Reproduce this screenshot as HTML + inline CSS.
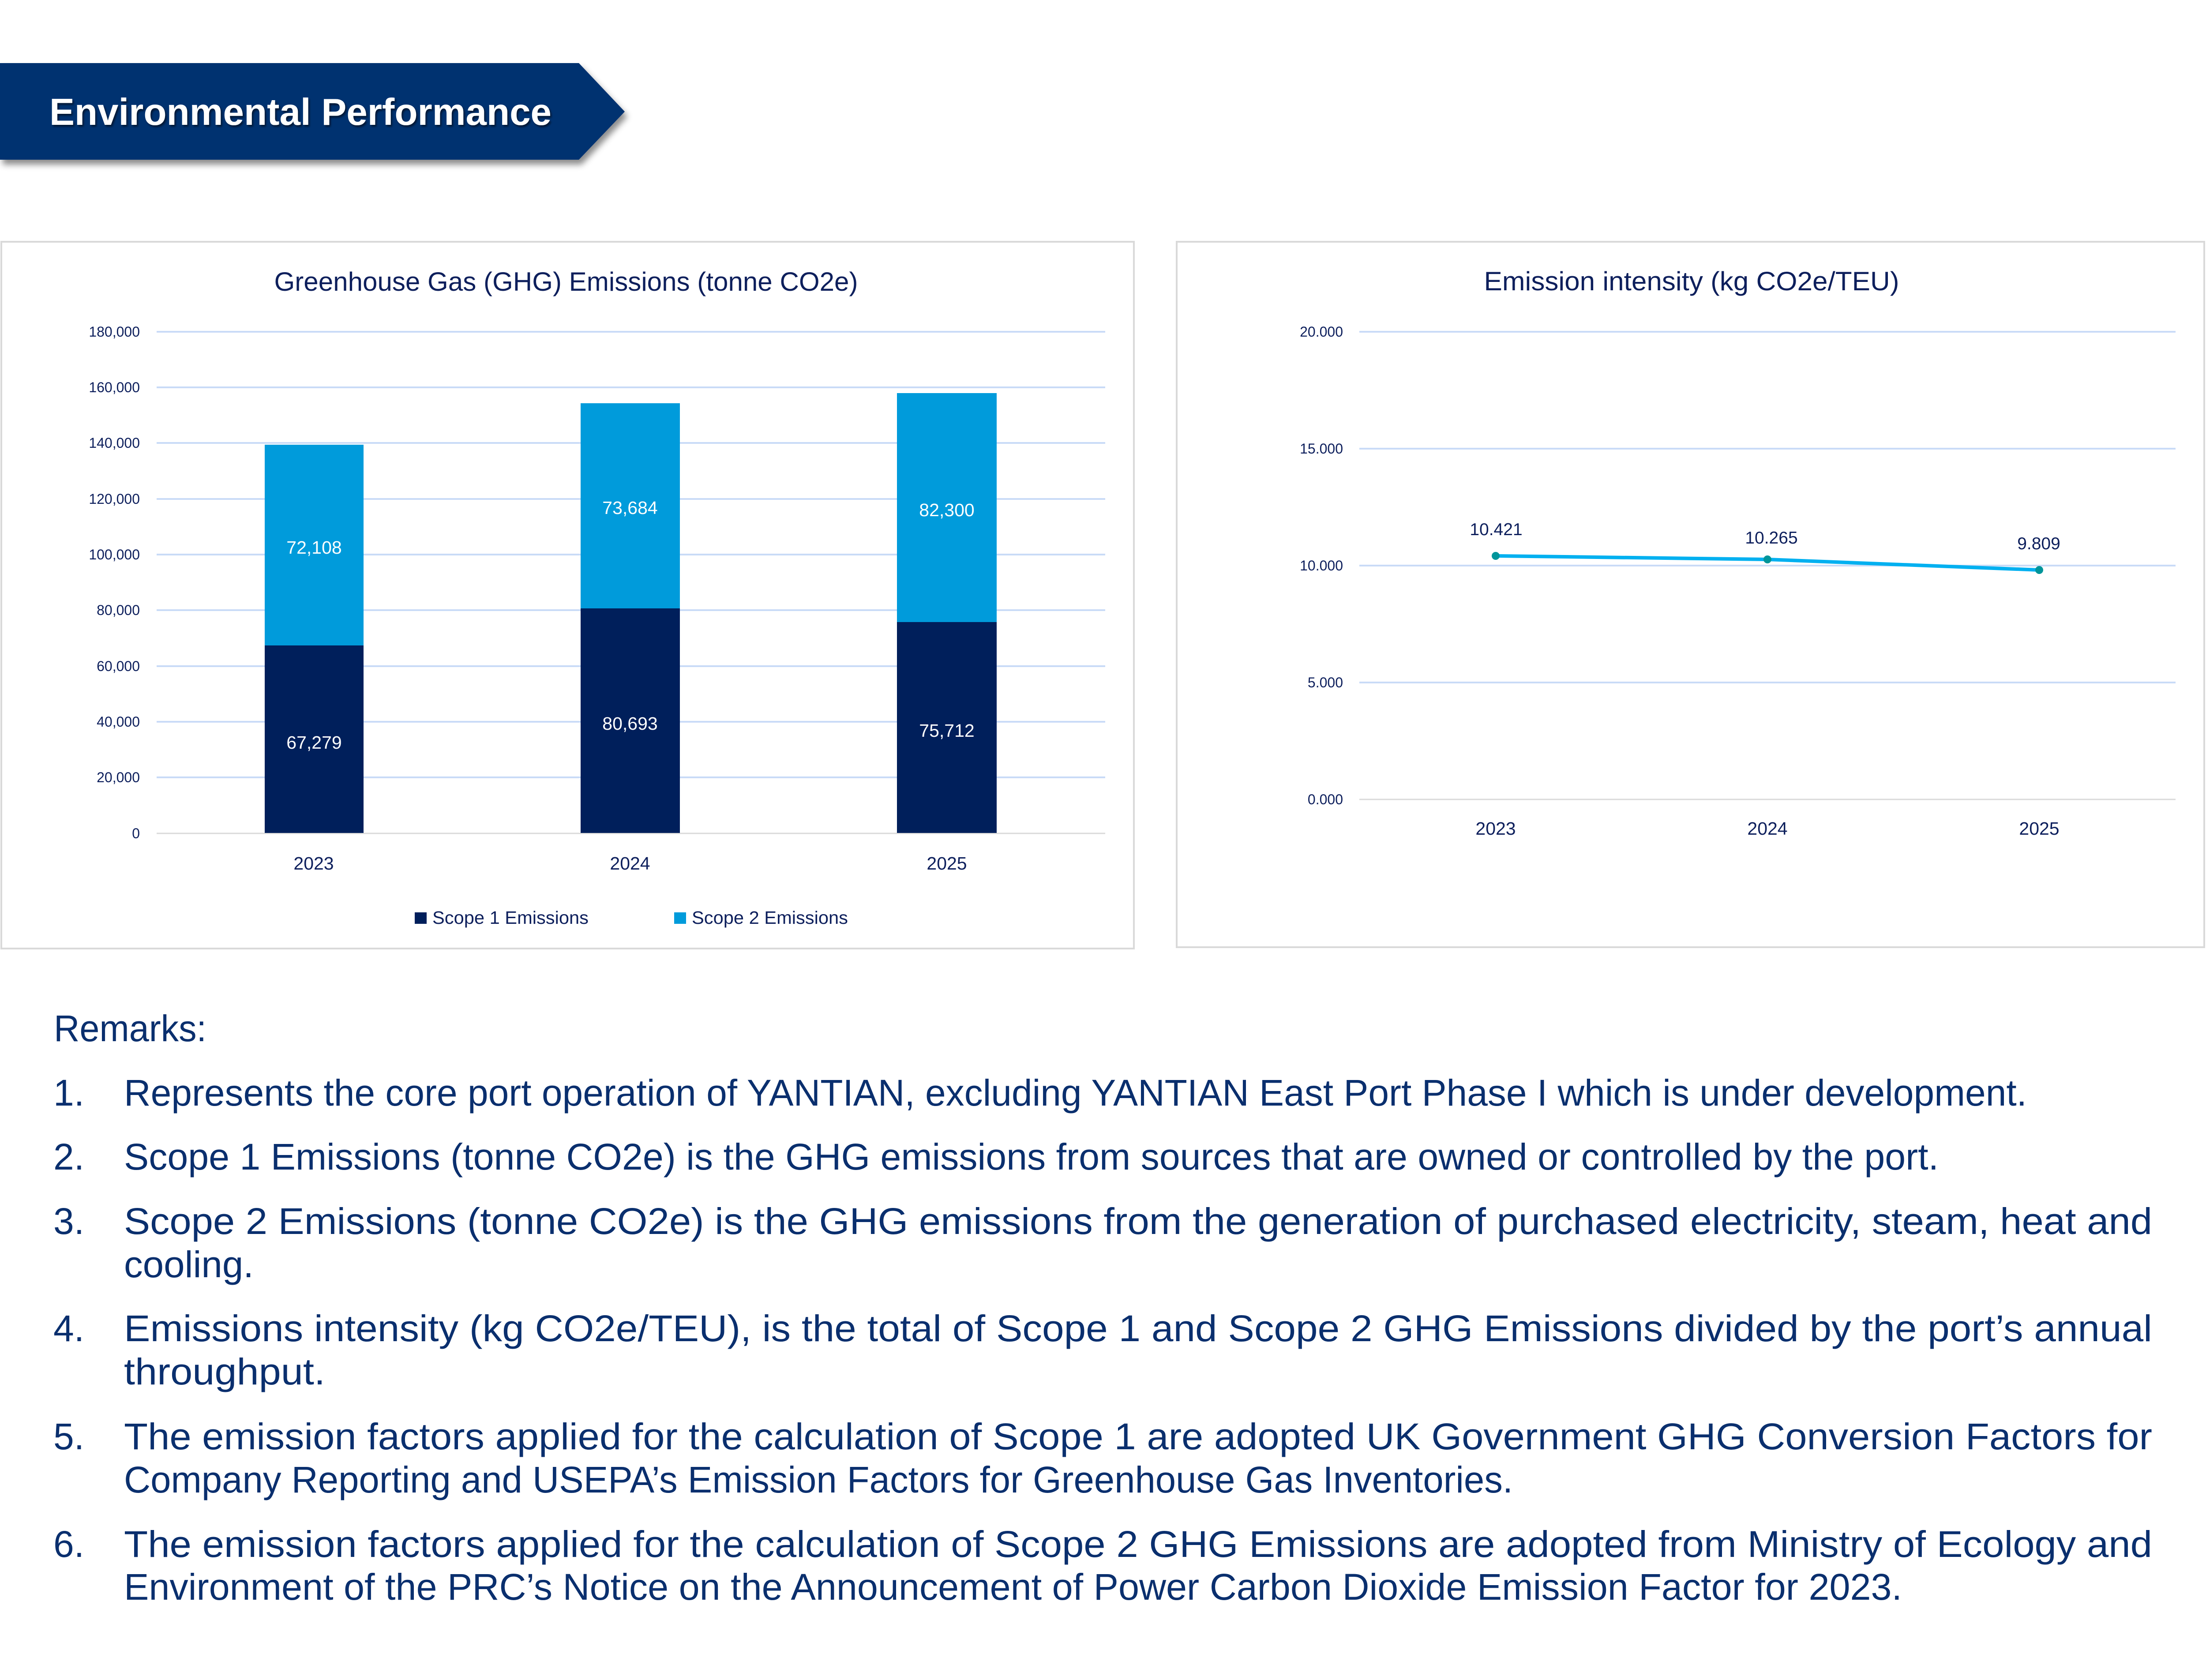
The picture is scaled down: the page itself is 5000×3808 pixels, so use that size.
<!DOCTYPE html>
<html>
<head>
<meta charset="utf-8">
<style>
  html, body { margin: 0; padding: 0; background: #ffffff; }
  body { width: 5000px; height: 3808px; overflow: hidden; }
  svg { display: block; }
  text { font-family: "Liberation Sans", "DejaVu Sans", sans-serif; }
</style>
</head>
<body>
<svg width="5000" height="3808" viewBox="0 0 5000 3808" xmlns="http://www.w3.org/2000/svg">
  <defs>
    <filter id="bshadow" x="-5%" y="-20%" width="115%" height="150%">
      <feDropShadow dx="6" dy="11" stdDeviation="7" flood-color="#000000" flood-opacity="0.45"/>
    </filter>
    <filter id="tshadow" x="-5%" y="-20%" width="110%" height="150%">
      <feDropShadow dx="3" dy="4" stdDeviation="2" flood-color="#000000" flood-opacity="0.55"/>
    </filter>
  </defs>

  <rect x="0" y="0" width="5000" height="3808" fill="#ffffff"/>

  <!-- Header banner -->
  <polygon points="0,143 1312,143 1416,253 1312,362 0,362" fill="#003070" filter="url(#bshadow)"/>
  <text x="112" y="283" font-size="85" font-weight="bold" fill="#ffffff" textLength="1138" lengthAdjust="spacingAndGlyphs" filter="url(#tshadow)">Environmental Performance</text>

  <!-- ============ Left chart ============ -->
  <rect x="3" y="548" width="2567" height="1602" fill="#ffffff" stroke="#D9D9D9" stroke-width="4"/>
  <text x="1283" y="659" font-size="60" fill="#0D1F5C" text-anchor="middle" textLength="1323" lengthAdjust="spacingAndGlyphs">Greenhouse Gas (GHG) Emissions (tonne CO2e)</text>

  <!-- gridlines -->
  <g stroke="#C9DBF7" stroke-width="4">
    <line x1="355" y1="1762" x2="2505" y2="1762"/>
    <line x1="355" y1="1636" x2="2505" y2="1636"/>
    <line x1="355" y1="1510" x2="2505" y2="1510"/>
    <line x1="355" y1="1383" x2="2505" y2="1383"/>
    <line x1="355" y1="1257" x2="2505" y2="1257"/>
    <line x1="355" y1="1131" x2="2505" y2="1131"/>
    <line x1="355" y1="1004" x2="2505" y2="1004"/>
    <line x1="355" y1="878" x2="2505" y2="878"/>
    <line x1="355" y1="752" x2="2505" y2="752"/>
  </g>
  <line x1="355" y1="1889" x2="2505" y2="1889" stroke="#D9D9D9" stroke-width="3"/>

  <!-- y labels -->
  <g font-size="32" fill="#0D1F5C" text-anchor="end">
    <text x="317" y="1900">0</text>
    <text x="317" y="1773">20,000</text>
    <text x="317" y="1647">40,000</text>
    <text x="317" y="1521">60,000</text>
    <text x="317" y="1394">80,000</text>
    <text x="317" y="1268">100,000</text>
    <text x="317" y="1142">120,000</text>
    <text x="317" y="1015">140,000</text>
    <text x="317" y="889">160,000</text>
    <text x="317" y="763">180,000</text>
  </g>

  <!-- bars -->
  <rect x="600" y="1463" width="224" height="425" fill="#001F5B"/>
  <rect x="600" y="1008" width="224" height="455" fill="#009BDB"/>
  <rect x="1316" y="1379" width="225" height="509" fill="#001F5B"/>
  <rect x="1316" y="914" width="225" height="465" fill="#009BDB"/>
  <rect x="2033" y="1410" width="226" height="478" fill="#001F5B"/>
  <rect x="2033" y="891" width="226" height="519" fill="#009BDB"/>

  <!-- bar labels -->
  <g font-size="41" fill="#ffffff" text-anchor="middle">
    <text x="712" y="1697">67,279</text>
    <text x="712" y="1255">72,108</text>
    <text x="1428" y="1654">80,693</text>
    <text x="1428" y="1165">73,684</text>
    <text x="2146" y="1670">75,712</text>
    <text x="2146" y="1170">82,300</text>
  </g>

  <!-- x labels -->
  <g font-size="41" fill="#0D1F5C" text-anchor="middle">
    <text x="711" y="1971">2023</text>
    <text x="1428" y="1971">2024</text>
    <text x="2146" y="1971">2025</text>
  </g>

  <!-- legend -->
  <rect x="940" y="2068" width="27" height="26" fill="#001F5B"/>
  <text x="980" y="2094" font-size="41" fill="#0D1F5C" textLength="354" lengthAdjust="spacingAndGlyphs">Scope 1 Emissions</text>
  <rect x="1528" y="2068" width="27" height="26" fill="#009BDB"/>
  <text x="1568" y="2094" font-size="41" fill="#0D1F5C" textLength="354" lengthAdjust="spacingAndGlyphs">Scope 2 Emissions</text>

  <!-- ============ Right chart ============ -->
  <rect x="2667" y="548" width="2329" height="1599" fill="#ffffff" stroke="#D9D9D9" stroke-width="4"/>
  <text x="3834" y="658" font-size="60" fill="#0D1F5C" text-anchor="middle" textLength="941" lengthAdjust="spacingAndGlyphs">Emission intensity (kg CO2e/TEU)</text>

  <g stroke="#C9DBF7" stroke-width="4">
    <line x1="3081" y1="1547" x2="4931" y2="1547"/>
    <line x1="3081" y1="1282" x2="4931" y2="1282"/>
    <line x1="3081" y1="1017" x2="4931" y2="1017"/>
    <line x1="3081" y1="752" x2="4931" y2="752"/>
  </g>
  <line x1="3081" y1="1812" x2="4931" y2="1812" stroke="#D9D9D9" stroke-width="3"/>

  <g font-size="32" fill="#0D1F5C" text-anchor="end">
    <text x="3044" y="1823">0.000</text>
    <text x="3044" y="1558">5.000</text>
    <text x="3044" y="1293">10.000</text>
    <text x="3044" y="1028">15.000</text>
    <text x="3044" y="763">20.000</text>
  </g>

  <polyline points="3390,1260 4006,1268 4622,1292" fill="none" stroke="#00B0F0" stroke-width="8" stroke-linejoin="round" stroke-linecap="round"/>
  <g fill="#00959A">
    <circle cx="3390" cy="1260" r="9"/>
    <circle cx="4006" cy="1268" r="9"/>
    <circle cx="4622" cy="1292" r="9"/>
  </g>

  <g font-size="39" fill="#0D1F5C" text-anchor="middle">
    <text x="3391" y="1213">10.421</text>
    <text x="4015" y="1232">10.265</text>
    <text x="4621" y="1245">9.809</text>
  </g>

  <g font-size="41" fill="#0D1F5C" text-anchor="middle">
    <text x="3390" y="1892">2023</text>
    <text x="4006" y="1892">2024</text>
    <text x="4622" y="1892">2025</text>
  </g>

  <!-- ============ Remarks ============ -->
  <g font-size="84" fill="#0A2F6E">
    <text x="122" y="2360" textLength="346" lengthAdjust="spacingAndGlyphs">Remarks:</text>

    <text x="121" y="2506">1.</text>
    <text x="281" y="2506" textLength="4313" lengthAdjust="spacingAndGlyphs">Represents the core port operation of YANTIAN, excluding YANTIAN East Port Phase I which is under development.</text>

    <text x="121" y="2651">2.</text>
    <text x="281" y="2651" textLength="4113" lengthAdjust="spacingAndGlyphs">Scope 1 Emissions (tonne CO2e) is the GHG emissions from sources that are owned or controlled by the port.</text>

    <text x="121" y="2797">3.</text>
    <text x="281" y="2797" textLength="4597" lengthAdjust="spacingAndGlyphs">Scope 2 Emissions (tonne CO2e) is the GHG emissions from the generation of purchased electricity, steam, heat and</text>
    <text x="281" y="2895" textLength="294" lengthAdjust="spacingAndGlyphs">cooling.</text>

    <text x="121" y="3040">4.</text>
    <text x="281" y="3040" textLength="4597" lengthAdjust="spacingAndGlyphs">Emissions intensity (kg CO2e/TEU), is the total of Scope 1 and Scope 2 GHG Emissions divided by the port’s annual</text>
    <text x="281" y="3138" textLength="456" lengthAdjust="spacingAndGlyphs">throughput.</text>

    <text x="121" y="3285">5.</text>
    <text x="281" y="3285" textLength="4597" lengthAdjust="spacingAndGlyphs">The emission factors applied for the calculation of Scope 1 are adopted UK Government GHG Conversion Factors for</text>
    <text x="281" y="3383" textLength="3148" lengthAdjust="spacingAndGlyphs">Company Reporting and USEPA’s Emission Factors for Greenhouse Gas Inventories.</text>

    <text x="121" y="3529">6.</text>
    <text x="281" y="3529" textLength="4597" lengthAdjust="spacingAndGlyphs">The emission factors applied for the calculation of Scope 2 GHG Emissions are adopted from Ministry of Ecology and</text>
    <text x="281" y="3626" textLength="4030" lengthAdjust="spacingAndGlyphs">Environment of the PRC’s Notice on the Announcement of Power Carbon Dioxide Emission Factor for 2023.</text>
  </g>
</svg>
</body>
</html>
